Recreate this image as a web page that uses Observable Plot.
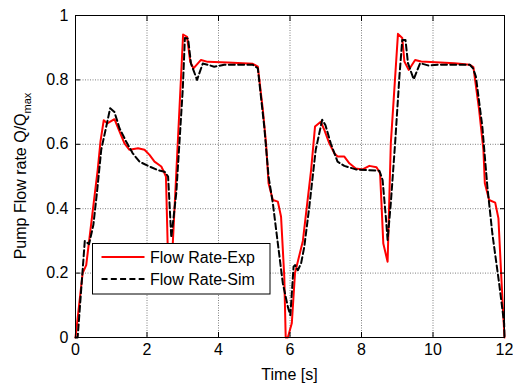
<!DOCTYPE html>
<html>
<head>
<meta charset="utf-8">
<script src="https://cdn.jsdelivr.net/npm/d3@7"></script>
<script src="https://cdn.jsdelivr.net/npm/@observablehq/plot@0.6"></script>
<style>
  html, body { margin: 0; padding: 0; background: white; }
  #chart { width: 513px; height: 385px; }
</style>
</head>
<body>
<div id="chart"></div>
<script>
// ---- data ----
const expTime = [0, 0.2, 0.3, 0.49, 0.62, 0.7, 0.79, 0.89, 1.09, 1.23, 1.37, 1.51, 1.75, 1.93, 2.07, 2.21, 2.4, 2.49, 2.53, 2.58, 2.64, 2.72, 2.81, 3.01, 3.12, 3.21, 3.3, 3.51, 3.7, 4.26, 4.96, 5.1, 5.24, 5.33, 5.4, 5.52, 5.66, 5.75, 5.84, 5.88, 5.94, 6.05, 6.14, 6.36, 6.59, 6.7, 6.86, 6.96, 7.1, 7.24, 7.33, 7.52, 7.66, 7.84, 8.03, 8.22, 8.42, 8.52, 8.61, 8.73, 8.82, 9.02, 9.14, 9.2, 9.32, 9.5, 9.67, 10.6, 11.03, 11.13, 11.29, 11.41, 11.45, 11.57, 11.74, 11.83, 11.91, 12.0];
const expFlow = [0, 0.2, 0.225, 0.40, 0.52, 0.61, 0.675, 0.665, 0.678, 0.64, 0.603, 0.583, 0.588, 0.583, 0.567, 0.546, 0.531, 0.51, 0.50, 0.28, 0.25, 0.29, 0.49, 0.941, 0.934, 0.856, 0.836, 0.862, 0.856, 0.854, 0.85, 0.841, 0.707, 0.603, 0.479, 0.427, 0.422, 0.375, 0.189, 0.0, 0.0, 0.044, 0.2, 0.3, 0.52, 0.655, 0.67, 0.645, 0.603, 0.572, 0.562, 0.562, 0.541, 0.525, 0.522, 0.533, 0.529, 0.51, 0.292, 0.235, 0.603, 0.943, 0.93, 0.857, 0.831, 0.862, 0.857, 0.852, 0.847, 0.84, 0.707, 0.583, 0.479, 0.427, 0.419, 0.37, 0.189, 0];

const simTime = [0, 0.06, 0.26, 0.38, 0.5, 0.6, 0.72, 0.86, 0.97, 1.09, 1.23, 1.42, 1.6, 1.79, 2.07, 2.3, 2.49, 2.59, 2.68, 2.82, 3.0, 3.06, 3.15, 3.23, 3.4, 3.56, 3.7, 3.88, 4.16, 4.96, 5.1, 5.28, 5.4, 5.52, 5.66, 5.8, 5.94, 6.01, 6.1, 6.14, 6.22, 6.31, 6.4, 6.54, 6.72, 6.9, 6.99, 7.14, 7.33, 7.52, 7.84, 8.12, 8.5, 8.59, 8.68, 8.73, 8.82, 8.94, 9.06, 9.14, 9.23, 9.3, 9.46, 9.64, 9.86, 10.15, 11.03, 11.12, 11.2, 11.38, 11.52, 11.66, 11.85, 11.99, 12];
const simFlow = [0, 0, 0.30, 0.29, 0.35, 0.45, 0.583, 0.655, 0.712, 0.70, 0.65, 0.608, 0.572, 0.546, 0.531, 0.52, 0.515, 0.5, 0.31, 0.45, 0.77, 0.93, 0.928, 0.851, 0.80, 0.851, 0.847, 0.841, 0.847, 0.847, 0.836, 0.655, 0.5, 0.417, 0.292, 0.168, 0.095, 0.069, 0.22, 0.225, 0.209, 0.23, 0.282, 0.406, 0.583, 0.676, 0.66, 0.603, 0.546, 0.533, 0.522, 0.52, 0.518, 0.489, 0.375, 0.303, 0.417, 0.603, 0.81, 0.924, 0.924, 0.852, 0.802, 0.852, 0.845, 0.847, 0.847, 0.836, 0.81, 0.655, 0.469, 0.323, 0.168, 0.044, 0];

const xTicks = [0, 2, 4, 6, 8, 10, 12];
const yTicks = [0, 0.2, 0.4, 0.6, 0.8, 1];
const seriesNames = ["Flow Rate-Exp", "Flow Rate-Sim"];
const xLabel = "Time [s]";
const yLabelMain = "Pump Flow rate Q/Q";
const yLabelSub = "max";

// ---- build tables ----
const expData = expTime.map((t, i) => ({t, q: expFlow[i]}));
const simData = simTime.map((t, i) => ({t, q: simFlow[i]}));

const font = "'Liberation Sans', Arial, sans-serif";
const gridStyle = {stroke: "#7f7f7f", strokeOpacity: 1, strokeWidth: 1, strokeDasharray: "1,1.5"};

const svg = Plot.plot({
  width: 513,
  height: 385,
  marginLeft: 75,
  marginRight: 9,
  marginTop: 15,
  marginBottom: 48,
  style: {fontFamily: font, fontSize: "16px", background: "white", color: "black", overflow: "visible"},
  x: {domain: [0, 12]},
  y: {domain: [0, 1]},
  marks: [
    Plot.gridX(xTicks, gridStyle),
    Plot.gridY(yTicks, gridStyle),
    Plot.line(expData, {x: "t", y: "q", stroke: "#ff0000", strokeWidth: 2}),
    Plot.line(simData, {x: "t", y: "q", stroke: "black", strokeWidth: 2, strokeDasharray: "6,3.3"}),
    Plot.frame({stroke: "black", strokeWidth: 1}),
    Plot.axisX(xTicks, {anchor: "bottom", tickSize: -5, tickPadding: 11, label: null, fontSize: 16}),
    Plot.axisX(xTicks, {anchor: "top", tickSize: -5, tickFormat: () => "", label: null}),
    Plot.axisY(yTicks, {anchor: "left", tickSize: -5, tickPadding: 12, label: null, fontSize: 16, tickFormat: d => String(d)}),
    Plot.axisY(yTicks, {anchor: "right", tickSize: -5, tickFormat: () => "", label: null})
  ]
});

document.getElementById("chart").appendChild(svg);

const sx = svg.scale("x"), sy = svg.scale("y");
const root = d3.select(svg);

// x axis label
root.append("text")
  .attr("x", sx.apply(6))
  .attr("y", 380)
  .attr("text-anchor", "middle")
  .attr("font-family", font)
  .attr("font-size", 16)
  .attr("fill", "black")
  .text(xLabel);

// y axis label with subscript
const yl = root.append("text")
  .attr("transform", `translate(26,${(sy.apply(0) + sy.apply(1)) / 2}) rotate(-90)`)
  .attr("text-anchor", "middle")
  .attr("font-family", font)
  .attr("font-size", 16)
  .attr("fill", "black");
yl.append("tspan").text(yLabelMain);
yl.append("tspan").attr("font-size", 11).attr("dy", 5).text(yLabelSub);

// legend
const lg = root.append("g").attr("font-family", font).attr("font-size", 16).attr("text-anchor", "start");
lg.append("rect").attr("x", 92.5).attr("y", 243.5).attr("width", 177.5).attr("height", 50.5)
  .attr("fill", "white").attr("stroke", "black").attr("stroke-width", 1);
const rows = [
  {name: seriesNames[0], stroke: "#ff0000", dash: null, y: 257},
  {name: seriesNames[1], stroke: "black", dash: "6,3.3", y: 279}
];
rows.forEach(r => {
  lg.append("line").attr("x1", 101.5).attr("x2", 144.5).attr("y1", r.y).attr("y2", r.y)
    .attr("stroke", r.stroke).attr("stroke-width", 2).attr("stroke-dasharray", r.dash);
  lg.append("text").attr("x", 150).attr("y", r.y + 6).attr("text-anchor", "start").attr("fill", "black").text(r.name);
});
</script>
</body>
</html>
